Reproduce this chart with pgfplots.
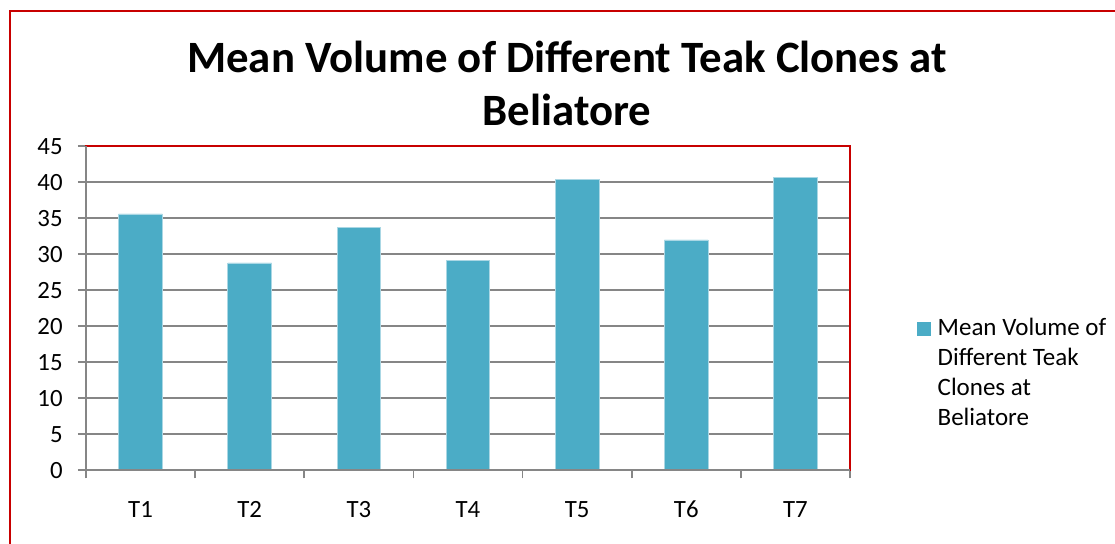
\documentclass[border=0pt]{standalone}
\usepackage{fontspec}
\setmainfont{Carlito}
\usepackage{pgfplots}
\pgfplotsset{compat=1.18}
\definecolor{barblue}{RGB}{75,172,198}
\definecolor{baredge}{RGB}{170,215,228}
\definecolor{gridgray}{RGB}{134,134,134}
\definecolor{frred}{RGB}{200,0,0}
\begin{document}
\begin{tikzpicture}
% page: 1115 x 544 px at 0.5pt per px, origin at top-left
\useasboundingbox (0pt,0pt) rectangle (557.5pt,-272pt);
\draw[frred, line width=1pt] (4.75pt,-272pt) -- (4.75pt,-5.75pt) -- (557.5pt,-5.75pt);
\node[anchor=base, align=center, font=\fontsize{22.4}{26.5}\selectfont\bfseries]
  at (283.5pt,-62.9pt) {Mean Volume of Different Teak Clones at\\Beliatore};
\begin{axis}[
  at={(43pt,-235.15pt)}, anchor=south west,
  scale only axis, width=382pt, height=162pt,
  xmin=-0.5, xmax=6.5, ymin=0, ymax=45,
  ytick={0,5,...,45},
  xtick={0,...,6},
  xticklabels={T1,T2,T3,T4,T5,T6,T7},
  minor xtick={-0.5,0.5,...,6.5},
  xtick pos=bottom, ytick pos=left,
  tick align=outside,
  major tick length=4pt, minor tick length=4pt,
  xtick style={draw=none},
  minor x tick style={draw=gridgray, line width=0.9pt},
  ytick style={draw=gridgray, line width=0.9pt},
  ymajorgrids,
  grid style={draw=gridgray, line width=0.9pt},
  axis line style={draw=none},
  /pgf/number format/assume math mode=true,
  tick label style={font=\fontsize{12.4}{15}\selectfont},
  yticklabel style={anchor=east, inner sep=0pt, xshift=-7.5pt},
  xticklabel style={anchor=base, inner sep=0pt, yshift=-19.5pt},
  bar width=0.4,
  legend style={draw=none, fill=none, inner sep=0pt, outer sep=0pt,
    at={(1.0873,0.4685)}, anchor=north west,
    cells={anchor=base west},
    nodes={inner sep=0pt, font=\fontsize{12.5}{15}\selectfont}},
  legend image code/.code={\path[fill=none, draw=none] (0pt,0pt) rectangle (10.5pt,7pt);
    \fill[barblue, draw=none] (0pt,0pt) rectangle (7pt,7pt);},
  after end axis/.code={
    \draw[frred, line width=0.9pt] (rel axis cs:0,0) rectangle (rel axis cs:1,1);
    \draw[gridgray, line width=0.9pt] (rel axis cs:0,1) -- (rel axis cs:0,0) -- (rel axis cs:1,0);
  },
]
\addplot[ybar, fill=barblue, draw=baredge, line width=0.4pt] coordinates {
  (0,35.6) (1,28.8) (2,33.75) (3,29.2) (4,40.45) (5,32.0) (6,40.7)
};
\addlegendentry{\vtop{\hbox{Mean Volume of}\hbox{Different Teak}\hbox{Clones at}\hbox{Beliatore}}}
\end{axis}
\end{tikzpicture}
\end{document}
